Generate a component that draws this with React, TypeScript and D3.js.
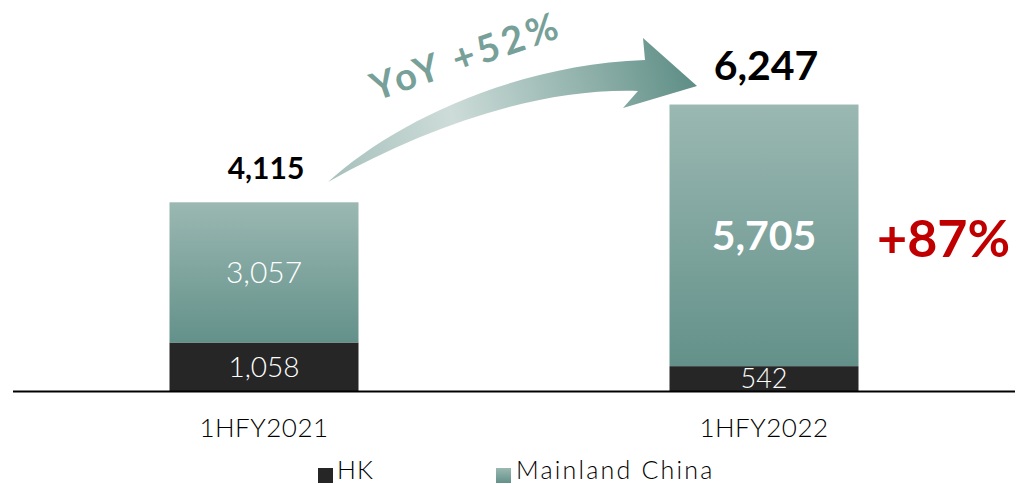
import React, { useEffect } from "react";
import * as d3 from "d3";

const categories = ["1HFY2021", "1HFY2022"];
const hkValues = [1058, 542];
const mainlandValues = [3057, 5705];
const totals = [4115, 6247];
const seriesNames = ["HK", "Mainland China"];
const yoyLabel = "YoY +52%";
const mainlandGrowthLabel = "+87%";

const W = 1017;
const H = 484;
const FONT = "Lato, 'Open Sans', sans-serif";

export default function App() {
  useEffect(() => {
    document.body.style.margin = "0";
  }, []);

  const x = d3
    .scaleBand<string>()
    .domain(categories)
    .range([14, 1014])
    .paddingInner(0.622)
    .paddingOuter(0.311);
  const y = d3.scaleLinear().domain([0, 7000]).range([391, 70]);

  const rows = categories.map((c, i) => ({ cat: c, hk: hkValues[i], ml: mainlandValues[i] }));
  const stacked = d3.stack<any>().keys(["hk", "ml"])(rows);
  const fmt = d3.format(",");
  const bw = x.bandwidth();

  const segFont = [
    [28, 300],
    [27, 300],
  ];
  const mlFont = [
    [30, 300],
    [41, 700],
  ];
  const totalFont = [30, 41];

  // arrow geometry
  const arrowPath = d3.path();
  arrowPath.moveTo(328, 182);
  arrowPath.bezierCurveTo(390, 125, 510, 65, 645, 60);
  arrowPath.lineTo(643, 38);
  arrowPath.lineTo(697, 86);
  arrowPath.lineTo(623, 108);
  arrowPath.lineTo(638, 91);
  arrowPath.bezierCurveTo(540, 88, 430, 125, 328, 182);
  arrowPath.closePath();

  return (
    <svg width={W} height={H} style={{ display: "block" }} fontFamily={FONT}>
      <defs>
        <linearGradient id="mlGrad" x1="0" y1="0" x2="0" y2="1">
          <stop offset="0" stopColor="#9bb8b2" />
          <stop offset="1" stopColor="#63918a" />
        </linearGradient>
        <linearGradient id="arrowGrad" gradientUnits="userSpaceOnUse" x1="330" y1="180" x2="700" y2="80">
          <stop offset="0" stopColor="#a6c0bb" />
          <stop offset="0.35" stopColor="#cddcd9" />
          <stop offset="0.75" stopColor="#8aada6" />
          <stop offset="1" stopColor="#5b8c84" />
        </linearGradient>
      </defs>

      {/* bars */}
      {stacked.map((s, si) =>
        s.map((d, i) => (
          <rect
            key={`${si}-${i}`}
            x={x(categories[i])!}
            y={y(d[1])}
            width={bw}
            height={y(d[0]) - y(d[1])}
            fill={si === 0 ? "#262626" : "url(#mlGrad)"}
          />
        ))
      )}

      {/* segment labels */}
      {stacked.map((s, si) =>
        s.map((d, i) => {
          const f = si === 0 ? segFont[i] : mlFont[i];
          const val = si === 0 ? hkValues[i] : mainlandValues[i];
          return (
            <text
              key={`l-${si}-${i}`}
              x={x(categories[i])! + bw / 2}
              y={(y(d[0]) + y(d[1])) / 2}
              dy="0.36em"
              textAnchor="middle"
              fill="#ffffff"
              fontSize={f[0]}
              fontWeight={f[1]}
            >
              {fmt(val)}
            </text>
          );
        })
      )}

      {/* totals */}
      {totals.map((t, i) => (
        <text
          key={`t-${i}`}
          x={x(categories[i])! + bw / 2 + 2}
          y={y(t) - (i === 0 ? 23 : 25)}
          textAnchor="middle"
          fontSize={totalFont[i]}
          fontWeight={700}
          fill="#000"
        >
          {fmt(t)}
        </text>
      ))}

      {/* axis line */}
      <line x1={13} x2={1015} y1={y(0) + 0.5} y2={y(0) + 0.5} stroke="#000" strokeWidth={2} />

      {/* category labels */}
      {categories.map((c) => (
        <text
          key={c}
          x={x(c)! + bw / 2}
          y={437}
          textAnchor="middle"
          fontSize={26}
          fontWeight={300}
          fill="#000"
          letterSpacing={0.5}
        >
          {c}
        </text>
      ))}

      {/* growth label */}
      <text x={877} y={257} fontSize={52} fontWeight={700} fill="#c00000">
        {mainlandGrowthLabel}
      </text>

      {/* arrow */}
      <path d={arrowPath.toString()} fill="url(#arrowGrad)" />
      <text
        transform="translate(376,101) rotate(-19)"
        fontSize={38}
        fontWeight={700}
        fill="#77a099"
        letterSpacing={4}
      >
        {yoyLabel}
      </text>

      {/* legend */}
      <rect x={318} y={468} width={15} height={15} fill="#262626" />
      <text x={337} y={479} fontSize={25} fontWeight={300} fill="#000" letterSpacing={1}>
        {seriesNames[0]}
      </text>
      <rect x={496} y={468} width={15} height={15} fill="url(#mlGrad)" />
      <text x={516} y={479} fontSize={25} fontWeight={300} fill="#000" letterSpacing={2.2}>
        {seriesNames[1]}
      </text>
    </svg>
  );
}
